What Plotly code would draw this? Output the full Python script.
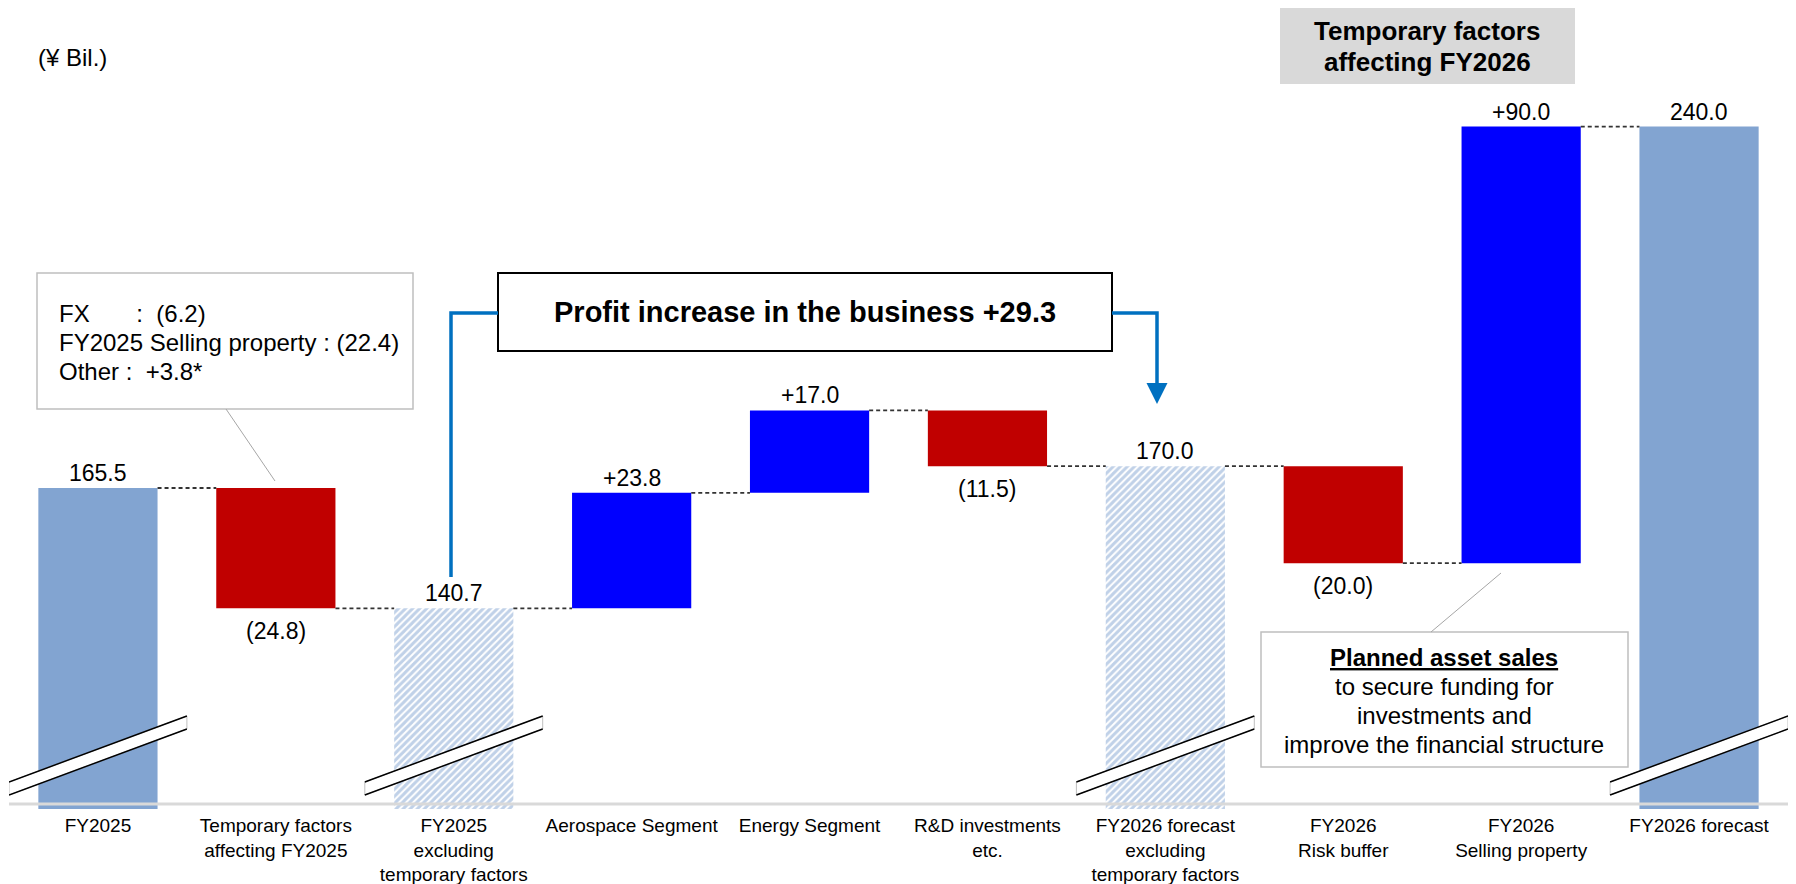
import plotly.graph_objects as go

# -- data (¥ Bil.)
categories = [
    "FY2025",
    "Temporary factors<br>affecting FY2025",
    "FY2025<br>excluding<br>temporary factors",
    "Aerospace Segment",
    "Energy Segment",
    "R&D investments<br>etc.",
    "FY2026 forecast<br>excluding<br>temporary factors",
    "FY2026<br>Risk buffer",
    "FY2026<br>Selling property",
    "FY2026 forecast",
]
values = [165.5, -24.8, 140.7, 23.8, 17.0, -11.5, 170.0, -20.0, 90.0, 240.0]
kinds = ["total", "delta", "subtotal", "delta", "delta", "delta", "subtotal", "delta", "delta", "total"]
value_labels = ["165.5", "(24.8)", "140.7", "+23.8", "+17.0", "(11.5)", "170.0", "(20.0)", "+90.0", "240.0"]

fx_lines = [
    "FX" + "\u00a0" * 7 + ":\u00a0\u00a0(6.2)",
    "FY2025 Selling property\u00a0:\u00a0(22.4)",
    "Other :\u00a0\u00a0+3.8*",
]
asset_lines = [
    "<b><u>Planned asset sales</u></b>",
    "to secure funding for",
    "investments and",
    "improve the financial structure",
]
profit_text = "<b>Profit increase in the business +29.3</b>"
header_lines = ["<b>Temporary factors</b>", "<b>affecting FY2026</b>"]

# -- colours
C_TOTAL = "#82A4D1"
C_UP = "#0000FF"
C_DOWN = "#C00000"
C_LINK = "#0070C0"
FONT = "Liberation Sans, Arial, sans-serif"

# -- canvas geometry; page adds an 8px body margin, so plot is pulled up/left
W, H = 1796, 884
ML, MR, MT, MB = 1, 16, 0, 83
PXU = 4.852                      # px per ¥ bil.
XPU = 177.9                      # px per category
Y_TOP = 266.08 - 8 / PXU
Y_MIN = Y_TOP - (H - MT - MB) / PXU


# positions below are measured in screen pixels of the photographed page
def fx(px):
    return -0.5 + (px - 9) / XPU


def fy(px):
    return 266.08 - px / PXU


BAR_W = 0.67

# -- waterfall geometry
bases, heights, tops, bottoms = [], [], [], []
level = 0.0
for v, k in zip(values, kinds):
    if k in ("total", "subtotal"):
        b, t = Y_MIN, v
        level = v
    else:
        b, t = min(level, level + v), max(level, level + v)
        level += v
    bases.append(b)
    heights.append(t - b)
    tops.append(t)
    bottoms.append(b)

idx = list(range(len(categories)))
fig = go.Figure()


def add_bars(sel, **marker):
    fig.add_trace(go.Bar(
        x=[idx[i] for i in sel], y=[heights[i] for i in sel], base=[bases[i] for i in sel],
        width=BAR_W, marker=marker, marker_line_width=0, showlegend=False, hoverinfo="skip",
    ))


add_bars([i for i, k in enumerate(kinds) if k == "total"], color=C_TOTAL)
add_bars([i for i, k in enumerate(kinds) if k == "subtotal"], color="white",
         pattern=dict(shape="/", fgcolor=C_TOTAL, bgcolor="white", size=5, solidity=0.6))
add_bars([i for i, k in enumerate(kinds) if k == "delta" and values[i] > 0], color=C_UP)
add_bars([i for i, k in enumerate(kinds) if k == "delta" and values[i] < 0], color=C_DOWN)

# -- dashed connectors between bars
levels = []
level = 0.0
for v, k in zip(values, kinds):
    level = v if k != "delta" else level + v
    levels.append(level)
for i in range(len(values) - 1):
    fig.add_trace(go.Scatter(
        x=[i + BAR_W / 2, i + 1 - BAR_W / 2], y=[levels[i], levels[i]], mode="lines",
        line=dict(color="#333333", width=1.8, dash="4px,3px"), showlegend=False, hoverinfo="skip",
    ))

shapes = []
annotations = []

# -- value labels
for i, (lab, v, k) in enumerate(zip(value_labels, values, kinds)):
    below = k == "delta" and v < 0
    annotations.append(dict(
        x=i, y=bottoms[i] if below else tops[i], text=lab, showarrow=False,
        yanchor="top" if below else "bottom", yshift=-8 if below else 0,
        font=dict(size=23, color="black"),
    ))

# -- axis base line
shapes.append(dict(type="line", xref="paper", x0=0, x1=1, y0=fy(804), y1=fy(804),
                   line=dict(color="#D9D9D9", width=3), layer="above"))

# -- axis break marks on the full-height bars
for i, k in enumerate(kinds):
    if k == "delta":
        continue
    xa, xb = i - 0.5, i + 0.5
    ua, ub, la, lb = fy(782), fy(716), fy(795), fy(729)
    shapes.append(dict(type="path",
                       path=f"M {xa},{ua} L {xb},{ub} L {xb},{lb} L {xa},{la} Z",
                       fillcolor="white", line=dict(color="#BFBFBF", width=1), layer="above"))
    shapes.append(dict(type="line", x0=xa, y0=ua, x1=xb, y1=ub, line=dict(color="black", width=1.5), layer="above"))
    shapes.append(dict(type="line", x0=xa, y0=la, x1=xb, y1=lb, line=dict(color="black", width=1.5), layer="above"))

# -- FX note box + leader
shapes.append(dict(type="rect", x0=fx(37), x1=fx(413), y0=fy(273), y1=fy(409),
                   fillcolor="white", line=dict(color="#BFBFBF", width=1.5)))
shapes.append(dict(type="line", x0=fx(226), y0=fy(409), x1=fx(275), y1=fy(481),
                   line=dict(color="#A6A6A6", width=1)))
for j, t in enumerate(fx_lines):
    annotations.append(dict(x=fx(57), y=fy(313 + 29 * j), text=t, showarrow=False,
                            xanchor="left", yanchor="middle", font=dict(size=24, color="black")))

# -- profit box with blue links
shapes.append(dict(type="rect", x0=fx(498), x1=fx(1112), y0=fy(273), y1=fy(351),
                   fillcolor="white", line=dict(color="black", width=2)))
annotations.append(dict(x=fx(805), y=fy(312), text=profit_text, showarrow=False,
                        font=dict(size=29, color="black")))
shapes.append(dict(type="path",
                   path=f"M {fx(451)},{fy(577)} L {fx(451)},{fy(313)} L {fx(498)},{fy(313)}",
                   line=dict(color=C_LINK, width=3.5)))
shapes.append(dict(type="path",
                   path=f"M {fx(1112)},{fy(313)} L {fx(1157)},{fy(313)} L {fx(1157)},{fy(392)}",
                   line=dict(color=C_LINK, width=3.5)))
annotations.append(dict(x=fx(1157), y=fy(404), ax=fx(1157), ay=fy(385), xref="x", yref="y",
                        axref="x", ayref="y", text="", showarrow=True, arrowhead=2,
                        arrowsize=1.2, arrowwidth=3.5, arrowcolor=C_LINK))

# -- asset sales box + leader
shapes.append(dict(type="rect", x0=fx(1261), x1=fx(1628), y0=fy(632), y1=fy(767),
                   fillcolor="white", line=dict(color="#BFBFBF", width=1.5)))
shapes.append(dict(type="line", x0=fx(1431), y0=fy(632), x1=fx(1501), y1=fy(573),
                   line=dict(color="#A6A6A6", width=1)))
for j, t in enumerate(asset_lines):
    annotations.append(dict(x=fx(1444), y=fy(657 + 29 * j), text=t, showarrow=False,
                            font=dict(size=24, color="black")))

# -- grey header
shapes.append(dict(type="rect", x0=fx(1280), x1=fx(1575), y0=fy(8), y1=fy(84),
                   fillcolor="#D9D9D9", line=dict(width=0)))
for j, t in enumerate(header_lines):
    annotations.append(dict(x=fx(1427), y=fy(31 + 31 * j), text=t, showarrow=False,
                            font=dict(size=26, color="black")))

# -- unit
annotations.append(dict(x=fx(36), y=fy(57), text="(¥ Bil.)", showarrow=False,
                        xanchor="left", font=dict(size=24, color="black")))

fig.update_layout(
    width=W, height=H,
    margin=dict(l=ML, r=MR, t=MT, b=MB),
    paper_bgcolor="white", plot_bgcolor="white",
    font=dict(family=FONT, color="black"),
    barmode="overlay",
    shapes=shapes, annotations=annotations,
    xaxis=dict(range=[-0.5, 9.5], tickmode="array", tickvals=idx, ticktext=categories,
               showgrid=False, zeroline=False, showline=False, ticks="",
               tickfont=dict(size=19, color="black"), ticklabelstandoff=3, fixedrange=True),
    yaxis=dict(range=[Y_MIN, Y_TOP], visible=False, fixedrange=True),
)

fig.write_html("out.html")
